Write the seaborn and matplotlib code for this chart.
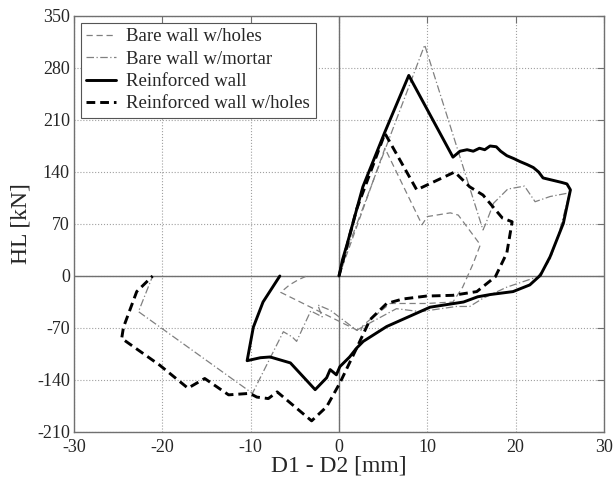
import seaborn as sns
import matplotlib
matplotlib.use('Agg')
import matplotlib.pyplot as plt

# Bare wall w/holes (thin dashed gray)
bh_x = [0, 5.2, 9.4, 10.0, 12.6, 13.5, 16.0, 15.2, 14.0, 12.9, 9.9, 5.8, 2.75, 2.4, -6.6, -5.6, -4.6, -3.66]
bh_y = [0, 172, 69, 80, 85, 82, 42, 17, -15, -35, -37, -37, -66, -75, -22, -12, -5, 0]

# Bare wall w/mortar (thin dash-dot gray)
bm_x = [0, 1.0, 9.7, 16.3, 16.6, 17.5, 19.1, 21.0, 22.2, 23.9, 26.1, 25.0, 23.9, 22.5, 19.0, 16.3, 14.8, 13.3,
        9.2, 6.5, 2.75, 2.0, -1.0, -2.4, -1.9, -3.2, -4.8, -5.3, -6.3, -9.8, -22.7, -21.1]
bm_y = [0, 38, 311, 62, 70, 98, 117, 121, 100, 107, 112, 62, 22, -1, -15, -30, -41, -41,
        -48, -44, -68, -73, -46, -39, -55, -47, -88, -82, -75, -158, -48, 0]

# Reinforced wall (thick solid black)
rw_x = [0, 0.4, 0.9, 2.7, 5.2, 7.9, 12.9, 13.7, 14.5, 15.2, 15.9, 16.5, 17.1, 17.8, 18.3, 19.0, 19.8, 20.5, 21.3,
        22.0, 22.6, 23.1, 23.8, 24.5, 25.2, 25.8, 26.2, 25.4, 23.9, 22.8, 21.6, 19.7, 17.1, 15.7, 14.1,
        10.3, 8.8, 5.4, 2.75, 2.0, 1.2, 0.1, -0.3, -1.0, -1.4, -2.7, -5.5, -7.8, -8.9, -10.4, -9.7, -8.6, -6.7]
rw_y = [0, 22, 42, 120, 194, 270, 160, 168, 170, 168, 172, 170, 175, 174, 168, 162, 158, 154, 150,
        146, 140, 132, 130, 128, 126, 124, 116, 71, 26, 1, -12, -21, -25, -28, -35,
        -42, -50, -68, -88, -97, -109, -122, -133, -126, -137, -153, -117, -109, -110, -114, -69, -35, 0]

# Reinforced wall w/holes (thick dashed black)
rh_x = [0, 2.0, 5.2, 8.8, 13.1, 14.8, 16.3, 18.5, 19.6, 19.0, 17.7, 15.6, 12.9, 9.9, 7.2, 5.4, 3.5, 2.0,
        0.1, -1.4, -3.1, -7.0, -8.0, -9.3, -10.1, -12.5, -15.2, -17.1, -20.3, -24.6, -24.4, -22.9, -21.1]
rh_y = [0, 90, 192, 116, 140, 120, 109, 78, 73, 31, -1, -21, -26, -27, -31, -37, -59, -97,
        -144, -176, -195, -156, -165, -163, -158, -160, -138, -151, -120, -84, -69, -21, 0]

x_ticks = [-30, -20, -10, 0, 10, 20, 30]
y_ticks = [-210, -140, -70, 0, 70, 140, 210, 280, 350]

sns.set_style('white')
plt.rcParams['font.family'] = ['Liberation Serif', 'DejaVu Serif']
plt.rcParams['axes.unicode_minus'] = False

fig = plt.figure(figsize=(6.13, 4.84), dpi=100)
ax = fig.add_axes([74 / 613, 1 - 432 / 484, 530 / 613, 416 / 484])

gray = '#808080'
sns.lineplot(x=bh_x, y=bh_y, sort=False, estimator=None, ax=ax, color=gray, lw=0.9,
             linestyle=(0, (5, 3)), label='Bare wall w/holes')
sns.lineplot(x=bm_x, y=bm_y, sort=False, estimator=None, ax=ax, color=gray, lw=0.9,
             linestyle=(0, (6, 2, 1, 2)), label='Bare wall w/mortar')
sns.lineplot(x=rw_x, y=rw_y, sort=False, estimator=None, ax=ax, color='black', lw=2.1,
             linestyle='-', label='Reinforced wall')
sns.lineplot(x=rh_x, y=rh_y, sort=False, estimator=None, ax=ax, color='black', lw=2.1,
             linestyle=(0, (3.0, 1.7)), label='Reinforced wall w/holes')

ax.axhline(0, color='#707070', lw=1.0, zorder=1)
ax.axvline(0, color='#707070', lw=1.0, zorder=1)

ax.set_xlim(-30, 30)
ax.set_ylim(-210, 350)
ax.set_xticks(x_ticks)
ax.set_yticks(y_ticks)
ax.grid(True, linestyle=':', color='#a0a0a0', lw=0.8)
ax.tick_params(direction='in', top=True, right=True, length=5, labelsize=13,
               color='#707070', pad=3)
ax.tick_params(axis='x', pad=5)
for s in ax.spines.values():
    s.set_color('#707070')
    s.set_linewidth(1.0)

ax.set_xlabel('D1 - D2 [mm]', fontsize=17, labelpad=0)
ax.set_ylabel('HL [kN]', fontsize=17, labelpad=4)

leg = ax.legend(loc='upper left', fontsize=13.5, frameon=True, fancybox=False,
                edgecolor='#555555', framealpha=1, borderaxespad=0.35,
                handlelength=1.6, handletextpad=0.55, labelspacing=0.28, borderpad=0.3)
leg.get_frame().set_linewidth(0.8)

fig.savefig('out.png', dpi=100)
